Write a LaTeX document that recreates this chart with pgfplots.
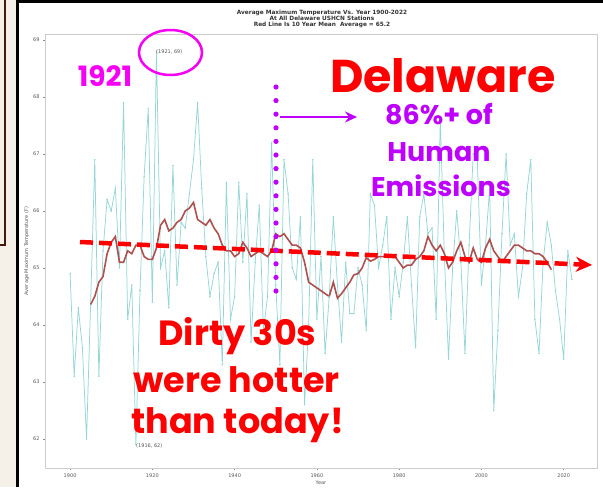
\documentclass[border=0pt]{standalone}
\usepackage{pgfplots}
\usepackage{pgfplotstable}
\pgfplotsset{compat=1.18}
\usepackage{fontspec}
\setmainfont{DejaVu Sans}
\newfontfamily\slidefont{Poppins}
\usetikzlibrary{arrows.meta}

\definecolor{cyanline}{RGB}{150,214,214}
\definecolor{meanred}{RGB}{175,80,80}
\definecolor{slidered}{RGB}{255,0,0}
\definecolor{violet}{RGB}{190,0,255}
\definecolor{mag}{RGB}{245,0,245}
\definecolor{beige}{RGB}{245,240,232}
\definecolor{brownline}{RGB}{70,25,15}

% yearly average maximum temperature, all Delaware USHCN stations
\pgfplotstableread{
year temp
1900 64.9
1901 63.1
1902 64.3
1903 63.6
1904 62.0
1905 64.4
1906 66.9
1907 63.1
1908 65.3
1909 66.2
1910 66.0
1911 66.4
1912 65.0
1913 67.9
1914 64.1
1915 64.7
1916 61.9
1917 64.6
1918 66.6
1919 67.8
1920 64.4
1921 68.8
1922 65.0
1923 65.3
1924 64.3
1925 66.8
1926 64.7
1927 65.8
1928 65.7
1929 66.3
1930 66.9
1931 67.9
1932 66.4
1933 65.2
1934 64.5
1935 64.9
1936 65.1
1937 63.3
1938 66.5
1939 64.1
1940 64.5
1941 66.5
1942 65.1
1943 66.3
1944 63.7
1945 65.1
1946 66.1
1947 63.9
1948 64.5
1949 67.2
1950 64.7
1951 63.3
1952 66.9
1953 66.3
1954 65.0
1955 64.8
1956 65.9
1957 62.6
1958 64.0
1959 66.9
1960 64.1
1961 65.2
1962 63.5
1963 64.5
1964 65.9
1965 64.7
1966 63.7
1967 65.1
1968 64.2
1969 64.2
1970 65.0
1971 64.7
1972 63.9
1973 66.3
1974 66.1
1975 65.0
1976 65.4
1977 65.9
1978 64.1
1979 65.0
1980 64.5
1981 65.1
1982 65.9
1983 64.7
1984 63.6
1985 65.9
1986 66.3
1987 65.6
1988 65.7
1989 64.1
1990 67.6
1991 65.2
1992 63.4
1993 65.0
1994 66.0
1995 65.1
1996 63.5
1997 65.4
1998 67.0
1999 66.9
2000 64.7
2001 65.4
2002 66.4
2003 62.5
2004 63.9
2005 65.6
2006 67.0
2007 65.4
2008 65.6
2009 64.5
2010 65.0
2011 66.3
2012 66.9
2013 64.1
2014 63.5
2015 65.1
2016 65.8
2017 65.4
2018 64.6
2019 64.1
2020 63.4
2021 65.3
2022 64.8
}\temps

% 10 year running mean
\pgfplotstableread{
year mean
1905 64.36
1906 64.50
1907 64.75
1908 64.85
1909 65.25
1910 65.45
1911 65.55
1912 65.10
1913 65.10
1914 65.30
1915 65.25
1916 65.40
1917 65.40
1918 65.20
1919 65.15
1920 65.15
1921 65.35
1922 65.75
1923 65.85
1924 65.65
1925 65.70
1926 65.80
1927 65.85
1928 66.00
1929 66.05
1930 66.15
1931 65.85
1932 65.80
1933 65.75
1934 65.85
1935 65.70
1936 65.60
1937 65.40
1938 65.30
1939 65.30
1940 65.20
1941 65.25
1942 65.45
1943 65.35
1944 65.20
1945 65.25
1946 65.30
1947 65.25
1948 65.20
1949 65.30
1950 65.60
1951 65.55
1952 65.60
1953 65.50
1954 65.40
1955 65.40
1956 65.35
1957 65.10
1958 64.75
1959 64.70
1960 64.65
1961 64.60
1962 64.55
1963 64.50
1964 64.75
1965 64.47
1966 64.55
1967 64.65
1968 64.75
1969 64.88
1970 64.90
1971 65.00
1972 65.18
1973 65.12
1974 65.15
1975 65.20
1976 65.20
1977 65.20
1978 65.20
1979 65.20
1980 65.10
1981 65.00
1982 65.05
1983 65.05
1984 65.15
1985 65.20
1986 65.30
1987 65.55
1988 65.40
1989 65.30
1990 65.40
1991 65.25
1992 65.00
1993 65.10
1994 65.30
1995 65.45
1996 65.20
1997 65.10
1998 65.35
1999 65.15
2000 65.10
2001 65.35
2002 65.50
2003 65.30
2004 65.20
2005 65.10
2006 65.20
2007 65.30
2008 65.40
2009 65.40
2010 65.35
2011 65.30
2012 65.30
2013 65.25
2014 65.25
2015 65.20
2016 65.10
2017 64.97
}\means

\begin{document}
\begin{tikzpicture}
\begin{scope}[x=1pt,y=1pt]
\useasboundingbox (0,0) rectangle (603,487);
\fill[white] (0,0) rectangle (603,487);
\fill[beige] (0,0) rectangle (17,487);
\draw[brownline, line width=1.2pt] (5,487) -- (5,242) -- (0,242);
\draw[black, line width=3pt] (17,0) -- (17,485) -- (603,485);
\end{scope}

\begin{axis}[
  at={(45pt,19pt)}, anchor=south west,
  width=552pt, height=434pt, scale only axis,
  xmin=1893.9, xmax=2028.1, ymin=61.49, ymax=69.105,
  xtick={1900,1920,...,2020}, ytick={62,63,...,69},
  x tick label style={/pgf/number format/1000 sep=},
  /pgf/number format/assume math mode=true,
  tick align=outside, major tick length=2pt,
  xtick pos=bottom, ytick pos=left,
  axis line style={black!20, line width=0.8pt},
  tick style={black!45, line width=0.4pt},
  ticklabel style={font=\fontsize{5}{6}\selectfont, text=black!65},
  xlabel={Year}, ylabel={Average Maximum Temperature (F)},
  label style={font=\fontsize{5}{6}\selectfont, text=black!65},
  xlabel style={yshift=3.5pt}, ylabel style={yshift=-3pt},
  clip=false,
]
\addplot[cyanline, line width=0.75pt, mark=*, mark size=0.3pt,
  mark options={fill=cyanline!70!black, draw=none}] table[x=year, y=temp] {\temps};
\addplot[meanred, line width=1.6pt] table[x=year, y=mean] {\means};
\end{axis}

\begin{scope}[x=1pt,y=1pt]
% chart title
\node[font=\fontsize{5.8}{7}\selectfont\bfseries, text=black!80] at (322,474.3) {Average Maximum Temperature Vs. Year 1900-2022};
\node[font=\fontsize{5.8}{7}\selectfont\bfseries, text=black!80] at (322,468.4) {At All Delaware USHCN Stations};
\node[font=\fontsize{5.8}{7}\selectfont\bfseries, text=black!80] at (322,462.5) {Red Line Is 10 Year Mean\ \ Average = 65.2};

% extreme labels
\node[anchor=west, inner sep=0pt, font=\fontsize{5}{6}\selectfont, text=black!65] at (156,435) {(1921, 69)};
\node[anchor=west, inner sep=0pt, font=\fontsize{5}{6}\selectfont, text=black!65] at (136,41) {(1916, 62)};

% slide annotations
\draw[mag, line width=2.5pt] (170.5,434.5) ellipse [x radius=31.5, y radius=22.5];
\node[anchor=base, inner sep=0pt, text=mag, font=\slidefont\bfseries\fontsize{28}{30}\selectfont] at (105,400) {1921};

\draw[slidered, line width=4.5pt, dash pattern=on 13pt off 6pt,
  -{Stealth[length=16pt, width=15pt, inset=5pt]}] (80,245) -- (592,222);

\draw[violet, line width=5.2pt, line cap=round, dash pattern=on 0pt off 13.6pt] (276,400) -- (276,183);
\draw[violet, line width=2.5pt, -{Stealth[length=12pt, width=11pt, inset=4pt]}] (280,370) -- (357,370);

\node[anchor=base, inner sep=0pt, text=slidered, font=\slidefont\bfseries\fontsize{46}{48}\selectfont] at (443,394) {Delaware};
\node[anchor=base, inner sep=0pt, text=violet, font=\slidefont\bfseries\fontsize{27}{29}\selectfont] at (439,362) {86\%+ of};
\node[anchor=base, inner sep=0pt, text=violet, font=\slidefont\bfseries\fontsize{27}{29}\selectfont] at (439,325) {Human};
\node[anchor=base, inner sep=0pt, text=violet, font=\slidefont\bfseries\fontsize{27}{29}\selectfont] at (441,290) {Emissions};

\node[anchor=base, inner sep=0pt, text=slidered, font=\slidefont\bfseries\fontsize{35}{38}\selectfont] at (237.5,142) {Dirty 30s};
\node[anchor=base, inner sep=0pt, text=slidered, font=\slidefont\bfseries\fontsize{35}{38}\selectfont] at (236.5,95) {were hotter};
\node[anchor=base, inner sep=0pt, text=slidered, font=\slidefont\bfseries\fontsize{35}{38}\selectfont] at (237.5,54) {than today!};
\end{scope}
\end{tikzpicture}
\end{document}
